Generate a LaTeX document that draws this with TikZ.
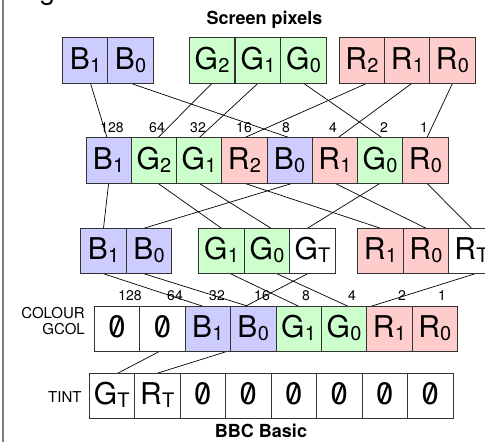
\documentclass[tikz,border=0pt]{standalone}
\usepackage{fontspec}
\setmainfont{TeX Gyre Heros}
\usetikzlibrary{backgrounds}
\definecolor{cblue}{RGB}{204,204,255}
\definecolor{cgreen}{RGB}{204,255,204}
\definecolor{cred}{RGB}{255,204,204}
\newcommand{\bitlab}[2]{{\fontsize{30}{30}\selectfont #1}\kern0.3pt{\fontsize{20}{20}\selectfont\raisebox{-3pt}{#2}}}
\newcommand{\zerobit}{{\fontsize{31}{31}\selectfont 0}}
\begin{document}
\begin{tikzpicture}[x=1pt,y=-1pt,
  cell/.style={draw=black!80, line width=0.8pt, minimum width=45.4pt, minimum height=45.5pt,
    inner sep=0pt, outer sep=0pt, text height=22pt, text depth=4.4pt, fill=white},
  bcell/.style={cell, fill=cblue},
  gcell/.style={cell, fill=cgreen},
  rcell/.style={cell, fill=cred},
  wcell/.style={cell, fill=white},
  num/.style={inner sep=0pt, font=\fontsize{14}{14}\selectfont},
  side/.style={inner sep=0pt, anchor=east, font=\fontsize{15}{15}\selectfont},
  title/.style={inner sep=0pt, anchor=base, font=\fontsize{18}{18}\selectfont\bfseries},
  wire/.style={draw=black, line width=0.7pt},
  slash/.style={draw=black, line width=2.1pt}]
\useasboundingbox (0,0) rectangle (485,442);
\draw[black!50, line width=1.5pt] (3,-2) -- (3,444);
\node[anchor=base, inner sep=0pt, font=\fontsize{28}{28}\selectfont] (gfrag) at (47.5,-1) {g};
\node[title] (top) at (264.5,24.5) {Screen pixels};
\node[title] (bot) at (261,437.5) {BBC Basic};
% row 1
\node[bcell] (r1b1) at (85.5,60.5) {\bitlab{B}{1}};
\node[bcell] (r1b0) at (130.5,60.5) {\bitlab{B}{0}};
\node[gcell] (r1g2) at (212,60.5) {\bitlab{G}{2}};
\node[gcell] (r1g1) at (258,60.5) {\bitlab{G}{1}};
\node[gcell] (r1g0) at (303.5,60.5) {\bitlab{G}{0}};
\node[rcell] (r1r2) at (362,60.5) {\bitlab{R}{2}};
\node[rcell] (r1r1) at (407.5,60.5) {\bitlab{R}{1}};
\node[rcell] (r1r0) at (452.5,60.5) {\bitlab{R}{0}};
% row 2
\node[bcell] (r2b1) at (108.6,160.5) {\bitlab{B}{1}};
\node[gcell] (r2g2) at (153.9,160.5) {\bitlab{G}{2}};
\node[gcell] (r2g1) at (199.1,160.5) {\bitlab{G}{1}};
\node[rcell] (r2r2) at (244.4,160.5) {\bitlab{R}{2}};
\node[bcell] (r2b0) at (289.6,160.5) {\bitlab{B}{0}};
\node[rcell] (r2r1) at (334.9,160.5) {\bitlab{R}{1}};
\node[gcell] (r2g0) at (380.1,160.5) {\bitlab{G}{0}};
\node[rcell] (r2r0) at (425.4,160.5) {\bitlab{R}{0}};
\foreach \n/\x [count=\i] in {128/112,64/157,32/198,16/244,8/286,4/333,2/384,1/424}
  \node[num] (na\i) at (\x,127.5) {\n};
% row 3
\node[bcell] (r3b1) at (103.5,251) {\bitlab{B}{1}};
\node[bcell] (r3b0) at (149,251) {\bitlab{B}{0}};
\node[gcell] (r3g1) at (221.5,251) {\bitlab{G}{1}};
\node[gcell] (r3g0) at (267,251) {\bitlab{G}{0}};
\node[wcell] (r3gt) at (312.5,251) {\bitlab{G}{T}};
\node[rcell] (r3r1) at (380.5,251) {\bitlab{R}{1}};
\node[rcell] (r3r0) at (426,251) {\bitlab{R}{0}};
\node[wcell] (r3rt) at (471.5,251) {\bitlab{R}{T}};
% row 4
\node[wcell] (r4za) at (117,329) {\zerobit};
\node[wcell] (r4zb) at (162.4,329) {\zerobit};
\node[bcell] (r4b1) at (207.8,329) {\bitlab{B}{1}};
\node[bcell] (r4b0) at (253.2,329) {\bitlab{B}{0}};
\node[gcell] (r4g1) at (298.6,329) {\bitlab{G}{1}};
\node[gcell] (r4g0) at (344,329) {\bitlab{G}{0}};
\node[rcell] (r4r1) at (389.4,329) {\bitlab{R}{1}};
\node[rcell] (r4r0) at (434.8,329) {\bitlab{R}{0}};
\foreach \n/\x [count=\i] in {128/130,64/175,32/217,16/262,8/306,4/352,2/402,1/442}
  \node[num] (nb\i) at (\x,296) {\n};
\node[side] (lcol) at (85,312.6) {COLOUR};
\node[side] (lgcol) at (85,329) {GCOL};
% row 5
\node[wcell, minimum width=45.5pt] (r5gt) at (111.75,396) {\bitlab{G}{T}};
\node[wcell, minimum width=45.5pt] (r5rt) at (157.25,396) {\bitlab{R}{T}};
\foreach \x [count=\i] in {202.75,248.25,293.75,339.25,384.75,430.25}
  \node[wcell, minimum width=45.5pt] (r5z\i) at (\x,396) {\zerobit};
\node[side] (ltint) at (81.7,397.5) {TINT};
% slashes through the zeros
\foreach \c in {r4za,r4zb,r5z1,r5z2,r5z3,r5z4,r5z5,r5z6}
  \draw[slash] ([shift={(-3.3,5.5)}]\c.center) -- ([shift={(2.9,-10.8)}]\c.center);
% connectors
\begin{pgfonlayer}{background}
\draw[wire] ([xshift=5pt]r1b1.south) -- ([xshift=-1.5pt]r2b1.north);
\draw[wire] (r1b0.south) -- (r2b0.north);
\draw[wire] (r1g2.south) -- ([xshift=4pt]r2g2.north);
\draw[wire] (r1g1.south) -- (r2g1.north);
\draw[wire] (r1g0.south) -- ([xshift=2pt]r2g0.north);
\draw[wire] ([xshift=5pt]r1r2.south) -- (r2r2.north);
\draw[wire] ([xshift=4.5pt]r1r1.south) -- ([xshift=3pt]r2r1.north);
\draw[wire] (r1r0.south) -- ([xshift=1.5pt]r2r0.north);
\draw[wire] (r2b1.south) -- (r3b1.north);
\draw[wire] ([xshift=3pt]r2b0.south) -- ([xshift=-5pt]r3b0.north);
\draw[wire] ([xshift=4pt]r2g2.south) -- (r3g1.north);
\draw[wire] (r2g1.south) -- ([xshift=4pt]r3g0.north);
\draw[wire] (r2g0.south) -- ([xshift=-5pt]r3gt.north);
\draw[wire] (r2r2.south) -- (r3r1.north);
\draw[wire] (r2r1.south) -- (r3r0.north);
\draw[wire] ([xshift=1.5pt]r2r0.south) -- (r3rt.north);
\draw[wire] (r3b1.south) -- ([xshift=-5pt]r4b1.north);
\draw[wire] ([xshift=-5pt]r3b0.south) -- ([xshift=-5pt]r4b0.north);
\draw[wire] ([xshift=9pt]r3g1.south) -- (r4g1.north);
\draw[wire] ([xshift=10pt]r3g0.south) -- ([xshift=4pt]r4g0.north);
\draw[wire] ([xshift=-5pt]r3gt.south) -- ([xshift=6pt]r5gt.north);
\draw[wire] ([xshift=3.5pt]r3rt.south) -- (r5rt.north);
\end{pgfonlayer}
\end{tikzpicture}
\end{document}
